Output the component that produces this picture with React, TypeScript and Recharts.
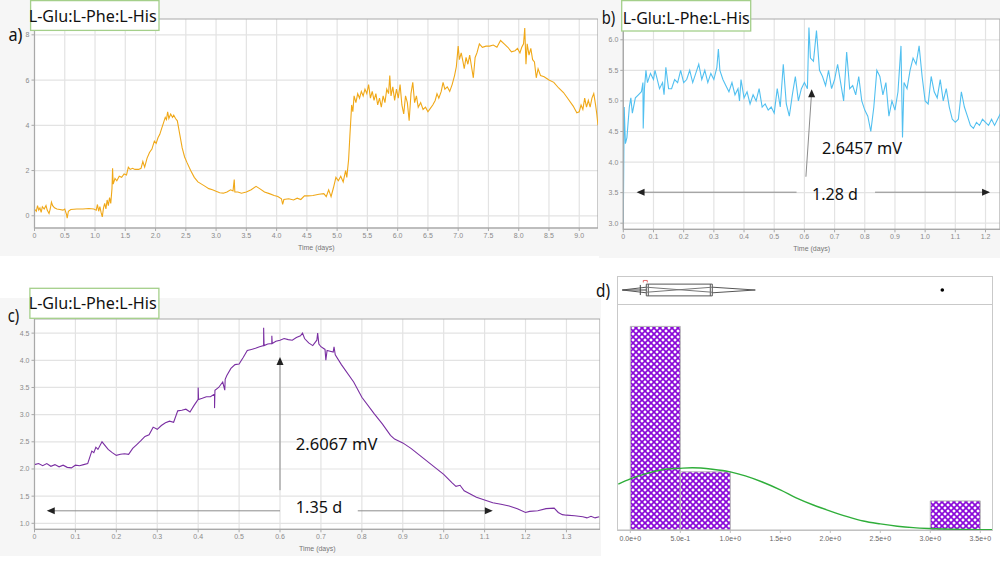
import React from "react";
import {
  LineChart,
  Line,
  XAxis,
  YAxis,
  CartesianGrid,
  ReferenceLine,
  ReferenceArea,
  ReferenceDot,
  ComposedChart,
  Scatter,
} from "recharts";

// a) long run, time (days) vs potential (mV)
const traceA: number[][] = [
  [0, 0.3], [0.03, 0.2], [0.05, 0.45], [0.07, 0.25], [0.09, 0.35], [0.11, 0.15], [0.13, 0.4], [0.16, 0.3],
  [0.19, 0.45], [0.21, 0.25], [0.24, 0.1], [0.26, 0.3], [0.28, 0.6], [0.3, 0.45], [0.33, 0.35], [0.37, 0.3],
  [0.42, 0.28], [0.47, 0.25], [0.5, 0.3], [0.53, 0.05], [0.54, -0.1], [0.56, 0.2], [0.6, 0.28], [0.7, 0.3],
  [0.8, 0.3], [0.9, 0.32], [0.98, 0.3], [1.02, 0.25], [1.04, 0.5], [1.06, 0.2], [1.08, 0.4], [1.1, 0.15],
  [1.12, -0.05], [1.14, 0.35], [1.16, 0.55], [1.18, 0.3], [1.2, 0.7], [1.22, 0.45], [1.24, 0.8], [1.26, 0.55],
  [1.28, 1.2], [1.29, 2.1], [1.3, 1.4], [1.33, 1.65], [1.36, 1.55], [1.4, 1.75], [1.44, 1.7], [1.48, 1.85],
  [1.52, 1.8], [1.55, 2.15], [1.58, 2.05], [1.62, 2.1], [1.66, 2.05], [1.72, 2.05], [1.76, 2.1], [1.79, 2.4],
  [1.82, 2.15], [1.86, 2.55], [1.9, 2.8], [1.94, 2.95], [1.98, 3.3], [2.01, 3.2], [2.04, 3.45], [2.07, 3.6],
  [2.1, 3.85], [2.13, 4.1], [2.16, 4.35], [2.18, 4.25], [2.2, 4.6], [2.22, 4.3], [2.25, 4.5], [2.28, 4.35],
  [2.3, 4.45], [2.33, 4.3], [2.36, 4.2], [2.4, 3.6], [2.44, 3.0], [2.48, 2.6], [2.52, 2.35], [2.58, 2.0],
  [2.64, 1.7], [2.7, 1.5], [2.76, 1.4], [2.82, 1.3], [2.88, 1.2], [2.94, 1.15], [3.0, 1.08], [3.06, 1.02],
  [3.12, 1.0], [3.18, 1.05], [3.24, 1.15], [3.28, 1.1], [3.3, 1.6], [3.31, 1.05], [3.36, 1.05], [3.42, 1.0],
  [3.5, 1.05], [3.58, 1.15], [3.66, 1.3], [3.72, 1.2], [3.8, 1.05], [3.88, 0.98], [3.96, 0.9], [4.02, 0.85],
  [4.08, 0.75], [4.1, 0.5], [4.12, 0.72], [4.2, 0.75], [4.28, 0.7], [4.34, 0.78], [4.4, 0.72], [4.46, 0.88],
  [4.52, 0.88], [4.6, 0.9], [4.7, 0.95], [4.78, 0.98], [4.82, 0.85], [4.86, 1.15], [4.9, 0.85], [4.94, 1.25],
  [4.98, 1.7], [5.02, 1.55], [5.06, 1.75], [5.1, 1.5], [5.14, 2.0], [5.16, 1.7], [5.19, 2.5], [5.21, 3.5],
  [5.24, 4.9], [5.26, 4.6], [5.28, 5.3], [5.31, 5.0], [5.34, 5.4], [5.37, 5.2], [5.4, 5.5], [5.43, 5.3],
  [5.46, 5.6], [5.49, 5.4], [5.52, 5.8], [5.55, 5.2], [5.58, 5.5], [5.61, 5.1], [5.64, 5.4], [5.67, 4.9],
  [5.7, 5.2], [5.73, 4.8], [5.76, 5.3], [5.79, 5.0], [5.82, 5.6], [5.85, 5.4], [5.87, 6.2], [5.89, 5.3],
  [5.92, 5.7], [5.95, 5.1], [5.98, 5.6], [6.01, 5.2], [6.04, 5.8], [6.07, 4.9], [6.1, 4.5], [6.13, 5.3],
  [6.16, 5.0], [6.19, 4.2], [6.22, 5.4], [6.25, 5.9], [6.28, 5.0], [6.31, 5.3], [6.34, 4.8], [6.38, 5.0],
  [6.42, 4.7], [6.46, 4.8], [6.5, 4.6], [6.54, 4.75], [6.58, 4.9], [6.62, 5.1], [6.65, 5.4], [6.68, 5.2],
  [6.72, 5.5], [6.75, 5.9], [6.78, 5.6], [6.82, 5.7], [6.86, 5.5], [6.9, 5.8], [6.94, 6.2], [6.97, 6.6],
  [7.0, 7.5], [7.02, 6.9], [7.05, 7.2], [7.08, 6.8], [7.1, 6.5], [7.13, 7.0], [7.16, 6.7], [7.19, 7.1],
  [7.22, 6.6], [7.25, 6.1], [7.28, 7.0], [7.31, 7.2], [7.35, 7.6], [7.4, 7.45], [7.46, 7.5], [7.52, 7.5],
  [7.58, 7.55], [7.64, 7.45], [7.7, 7.75], [7.76, 7.6], [7.82, 7.45], [7.88, 7.25], [7.94, 7.3], [7.98, 7.4],
  [8.02, 7.2], [8.05, 7.45], [8.08, 7.6], [8.1, 8.3], [8.12, 6.7], [8.14, 7.6], [8.17, 7.1], [8.2, 7.4],
  [8.23, 6.9], [8.26, 6.8], [8.29, 6.1], [8.32, 6.5], [8.36, 6.2], [8.42, 6.15], [8.5, 6.0], [8.58, 5.9],
  [8.66, 5.65], [8.74, 5.45], [8.82, 5.15], [8.9, 4.85], [8.96, 4.55], [9.0, 4.6], [9.03, 4.9], [9.06, 4.7],
  [9.09, 5.2], [9.12, 4.8], [9.15, 5.1], [9.18, 4.8], [9.21, 5.2], [9.24, 5.4], [9.27, 4.9], [9.29, 4.5],
  [9.31, 4.0],
];

// b) first cycle
const traceB: number[][] = [
  [0, 3.0], [0.003, 4.9], [0.007, 4.3], [0.012, 4.4], [0.02, 4.9], [0.025, 5.05], [0.03, 4.8], [0.04, 5.05],
  [0.05, 5.1], [0.06, 5.15], [0.065, 5.3], [0.066, 4.55], [0.07, 5.2], [0.075, 5.5], [0.08, 5.3], [0.09, 5.45],
  [0.1, 5.35], [0.105, 5.5], [0.11, 5.4], [0.12, 5.2], [0.13, 5.3], [0.135, 5.1], [0.141, 5.55], [0.15, 5.2],
  [0.16, 5.2], [0.17, 5.35], [0.18, 5.3], [0.19, 5.5], [0.2, 5.3], [0.21, 5.35], [0.22, 5.5], [0.23, 5.3],
  [0.24, 5.45], [0.25, 5.6], [0.26, 5.35], [0.27, 5.5], [0.28, 5.3], [0.29, 5.45], [0.3, 5.35], [0.31, 5.55],
  [0.315, 5.85], [0.32, 5.5], [0.33, 5.35], [0.34, 5.25], [0.35, 5.15], [0.36, 5.3], [0.37, 5.1], [0.38, 5.2],
  [0.385, 5.0], [0.39, 5.35], [0.4, 5.05], [0.41, 5.15], [0.42, 4.95], [0.43, 5.1], [0.44, 5.0], [0.45, 5.2],
  [0.46, 4.9], [0.47, 4.95], [0.48, 4.85], [0.49, 4.9], [0.5, 4.8], [0.51, 5.2], [0.52, 4.9], [0.53, 5.6],
  [0.54, 4.95], [0.55, 4.75], [0.56, 5.1], [0.57, 5.4], [0.58, 5.0], [0.59, 5.2], [0.6, 5.3], [0.61, 5.2],
  [0.615, 6.2], [0.62, 5.7], [0.63, 5.65], [0.64, 6.15], [0.65, 5.5], [0.66, 5.4], [0.67, 5.25], [0.68, 5.5],
  [0.69, 5.2], [0.7, 5.35], [0.71, 5.6], [0.72, 5.3], [0.73, 5.0], [0.74, 5.8], [0.75, 5.2], [0.76, 5.25],
  [0.77, 5.1], [0.78, 5.4], [0.79, 5.0], [0.8, 4.85], [0.81, 4.75], [0.82, 4.5], [0.83, 4.9], [0.84, 5.5],
  [0.85, 5.4], [0.86, 5.1], [0.87, 5.3], [0.88, 4.75], [0.89, 5.0], [0.9, 4.85], [0.91, 5.15], [0.92, 5.9],
  [0.925, 4.4], [0.93, 5.3], [0.94, 5.2], [0.95, 5.5], [0.96, 5.7], [0.97, 5.6], [0.98, 5.9], [0.99, 5.4],
  [1.0, 5.0], [1.01, 4.95], [1.02, 5.4], [1.03, 5.15], [1.04, 5.05], [1.05, 5.35], [1.06, 5.0], [1.07, 5.2],
  [1.08, 4.9], [1.09, 4.7], [1.1, 4.65], [1.11, 4.7], [1.12, 5.15], [1.13, 4.9], [1.14, 4.75], [1.15, 4.6],
  [1.16, 4.55], [1.17, 4.65], [1.18, 4.6], [1.19, 4.7], [1.2, 4.65], [1.21, 4.6], [1.22, 4.7], [1.23, 4.6],
  [1.24, 4.7], [1.25, 4.8],
];

// c) second cycle
const traceC: number[][] = [
  [0, 2.08], [0.01, 2.1], [0.02, 2.06], [0.03, 2.1], [0.04, 2.05], [0.05, 2.08], [0.06, 2.04], [0.07, 2.07],
  [0.08, 2.03], [0.09, 2.02], [0.1, 2.07], [0.11, 2.06], [0.12, 2.08], [0.13, 2.1], [0.14, 2.33], [0.145, 2.3],
  [0.15, 2.4], [0.155, 2.36], [0.165, 2.5], [0.18, 2.36], [0.19, 2.3], [0.2, 2.25], [0.21, 2.27], [0.22, 2.28],
  [0.23, 2.27], [0.24, 2.38], [0.25, 2.45], [0.26, 2.52], [0.27, 2.6], [0.28, 2.63], [0.29, 2.77], [0.3, 2.73],
  [0.31, 2.8], [0.32, 2.85], [0.33, 2.88], [0.34, 2.86], [0.35, 3.07], [0.36, 3.08], [0.37, 3.1], [0.38, 3.05],
  [0.39, 3.17], [0.4, 3.28], [0.4, 3.5], [0.401, 3.28], [0.41, 3.3], [0.42, 3.33], [0.43, 3.33], [0.44, 3.38],
  [0.44, 3.12], [0.441, 3.45], [0.45, 3.5], [0.46, 3.6], [0.465, 3.45], [0.466, 3.65], [0.47, 3.72], [0.48, 3.85],
  [0.49, 3.92], [0.5, 3.93], [0.51, 4.05], [0.52, 4.18], [0.53, 4.2], [0.54, 4.22], [0.55, 4.25], [0.56, 4.27],
  [0.56, 4.6], [0.561, 4.27], [0.57, 4.3], [0.58, 4.31], [0.58, 4.45], [0.581, 4.31], [0.59, 4.35], [0.6, 4.37],
  [0.61, 4.4], [0.62, 4.38], [0.63, 4.37], [0.64, 4.42], [0.65, 4.45], [0.655, 4.5], [0.66, 4.4], [0.67, 4.32],
  [0.68, 4.27], [0.69, 4.37], [0.692, 4.5], [0.695, 4.3], [0.7, 4.25], [0.71, 4.2], [0.712, 4.0], [0.715, 4.18],
  [0.72, 4.17], [0.73, 4.15], [0.732, 4.25], [0.735, 4.1], [0.75, 3.92], [0.78, 3.6], [0.8, 3.32], [0.83, 3.02],
  [0.85, 2.83], [0.87, 2.62], [0.88, 2.55], [0.9, 2.48], [0.92, 2.38], [0.95, 2.2], [0.98, 2.02], [1.0, 1.9],
  [1.02, 1.75], [1.03, 1.68], [1.04, 1.7], [1.05, 1.6], [1.08, 1.48], [1.1, 1.43], [1.12, 1.38], [1.14, 1.35],
  [1.16, 1.32], [1.18, 1.27], [1.2, 1.2], [1.21, 1.22], [1.23, 1.23], [1.25, 1.27], [1.27, 1.28], [1.28, 1.2],
  [1.29, 1.16], [1.3, 1.15], [1.32, 1.14], [1.34, 1.12], [1.35, 1.1], [1.36, 1.13], [1.37, 1.1], [1.38, 1.12],
];

// d) histogram of drift values (bins of 0.5)
const binStarts = [0, 0.5, 3.0];
const binCounts = [7, 2, 1];
const binWidth = 0.5;
const curveX = [-0.12, 0, 0.15, 0.32, 0.5, 0.62, 0.82, 1.0, 1.15, 1.32, 1.5, 1.67, 1.83, 2.0, 2.17, 2.33, 2.5, 2.67, 2.83, 3.0, 3.33, 3.62];
const curveY = [1.58, 1.76, 1.93, 2.07, 2.12, 2.14, 2.09, 2.0, 1.86, 1.65, 1.38, 1.09, 0.86, 0.65, 0.46, 0.31, 0.21, 0.13, 0.08, 0.05, 0.02, 0.01];
const histTicks = [0, 0.5, 1, 1.5, 2, 2.5, 3, 3.5];
const boxStats = { lo: -0.08, notch: 0.1, q1: 0.16, q3: 0.82, hi: 1.25, outlier: 3.12 };

const rows = (pts: number[][]) => pts.map(([t, v]) => ({ t, v }));
const step = (from: number, to: number, by: number) => {
  const out: number[] = [];
  for (let i = 0; from + i * by <= to + 1e-9; i++) out.push(+(from + i * by).toFixed(2));
  return out;
};
const fmt1 = (v: number) => (v === 0 ? "0" : v.toFixed(1));

const tickStyle = { fontSize: 7, fill: "#8a8a8a" };
const gridColor = "#e3e3e3";
const frameColor = "#a9a9a9";
const histDomain = [-0.123, 3.623];
const histW = 374.6;

const headShape = (dir: "up" | "left" | "right") => (p: any) => {
  const { cx, cy } = p;
  const d =
    dir === "up"
      ? `M${cx},${cy} L${cx - 3.5},${cy + 8} L${cx + 3.5},${cy + 8} Z`
      : dir === "left"
      ? `M${cx},${cy} L${cx + 8},${cy - 3.5} L${cx + 8},${cy + 3.5} Z`
      : `M${cx},${cy} L${cx - 8},${cy - 3.5} L${cx - 8},${cy + 3.5} Z`;
  return <path d={d} fill="#222" />;
};

function Trace(props: any) {
  const { left, top, width, height, marginTop, yw, xh, xDomain, yDomain, xTicks, yTicks, data, color, yFmt, labelOffset, children } = props;
  return (
    <div style={{ position: "absolute", left, top }}>
      <LineChart width={width} height={height} data={rows(data)} margin={{ top: marginTop, right: 0, left: 0, bottom: 0 }}>
        <CartesianGrid stroke={gridColor} strokeWidth={1.2} fill="#fff" verticalValues={xTicks} horizontalValues={yTicks} />
        <XAxis
          dataKey="t"
          type="number"
          domain={xDomain}
          ticks={xTicks}
          allowDataOverflow
          height={xh}
          tick={tickStyle}
          tickFormatter={fmt1}
          tickSize={3}
          tickMargin={2}
          stroke={frameColor}
          interval={0}
          label={{ value: "Time (days)", position: "insideBottom", offset: labelOffset, fontSize: 7, fill: "#777" }}
        />
        <YAxis
          type="number"
          domain={yDomain}
          ticks={yTicks}
          allowDataOverflow
          width={yw}
          tick={tickStyle}
          tickFormatter={yFmt}
          tickSize={3}
          tickMargin={2}
          stroke={frameColor}
          interval={0}
        />
        <ReferenceArea x1={xDomain[0]} x2={xDomain[1]} y1={yDomain[0]} y2={yDomain[1]} fill="none" stroke={frameColor} strokeWidth={1.2} />
        <Line dataKey="v" type="linear" stroke={color} strokeWidth={1.1} dot={false} isAnimationActive={false} />
        {children}
      </LineChart>
    </div>
  );
}

const arrowGray = "#8c8c8c";

export default function App() {
  const curveData = curveX.map((x, i) => ({ x, d: curveY[i] }));
  const font = "'Noto Sans', 'Open Sans', sans-serif";
  return (
    <div style={{ position: "absolute", left: 0, top: 0, width: 1000, height: 563, overflow: "hidden", background: "#fff", fontFamily: "'Liberation Sans', Arial, sans-serif" }}>
      <div style={{ position: "absolute", left: 0, top: 0, width: 599, height: 256, background: "#f6f6f6" }} />
      <div style={{ position: "absolute", left: 599, top: 0, width: 401, height: 258, background: "#f6f6f6" }} />
      <div style={{ position: "absolute", left: 0, top: 298, width: 601, height: 258, background: "#f6f6f6" }} />

      <Trace
        left={0} top={0} width={598} height={255} marginTop={19} yw={34.5} xh={27}
        xDomain={[0, 9.31]} yDomain={[-0.54, 8.7]} xTicks={step(0, 9, 0.5)} yTicks={[0, 2, 4, 6, 8]}
        data={traceA} color="#f0a818" yFmt={(v: number) => String(v)} labelOffset={5}
      />

      <Trace
        left={595} top={0} width={405} height={258} marginTop={19} yw={28.3} xh={28.7}
        xDomain={[0, 1.248]} yDomain={[2.9, 6.34]} xTicks={step(0, 1.2, 0.1)} yTicks={step(3, 6, 0.5)}
        data={traceB} color="#52c0f0" yFmt={(v: number) => v.toFixed(1)} labelOffset={7}
      >
        <ReferenceLine segment={[{ x: 0.605, y: 3.76 }, { x: 0.623, y: 5.08 }]} stroke={arrowGray} />
        <ReferenceDot x={0.624} y={5.19} r={3} shape={headShape("up")} />
        <ReferenceLine segment={[{ x: 0.05, y: 3.507 }, { x: 0.574, y: 3.507 }]} stroke={arrowGray} />
        <ReferenceLine segment={[{ x: 0.834, y: 3.507 }, { x: 1.21, y: 3.507 }]} stroke={arrowGray} />
        <ReferenceDot x={0.044} y={3.507} r={3} shape={headShape("left")} />
        <ReferenceDot x={1.215} y={3.507} r={3} shape={headShape("right")} />
      </Trace>

      <Trace
        left={0} top={298} width={600} height={260} marginTop={21} yw={34.5} xh={28.7}
        xDomain={[0, 1.382]} yDomain={[0.89, 4.76]} xTicks={step(0, 1.3, 0.1)} yTicks={step(1, 4.5, 0.5)}
        data={traceC} color="#7a2fa2" yFmt={(v: number) => v.toFixed(1)} labelOffset={7}
      >
        <ReferenceLine segment={[{ x: 0.6, y: 1.61 }, { x: 0.6, y: 3.95 }]} stroke={arrowGray} />
        <ReferenceDot x={0.6} y={4.06} r={3} shape={headShape("up")} />
        <ReferenceLine segment={[{ x: 0.035, y: 1.23 }, { x: 0.6, y: 1.23 }]} stroke={arrowGray} />
        <ReferenceLine segment={[{ x: 0.79, y: 1.23 }, { x: 1.115, y: 1.23 }]} stroke={arrowGray} />
        <ReferenceDot x={0.03} y={1.23} r={3} shape={headShape("left")} />
        <ReferenceDot x={1.12} y={1.23} r={3} shape={headShape("right")} />
      </Trace>

      {/* d) frame */}
      <div style={{ position: "absolute", left: 617, top: 276, width: 376, height: 255, border: "1px solid #c9c9c9", boxSizing: "border-box" }} />
      <div style={{ position: "absolute", left: 617, top: 304, width: 376, height: 1, background: "#c9c9c9" }} />

      <div style={{ position: "absolute", left: 617.7, top: 276 }}>
        <ComposedChart width={histW} height={28} data={[]} margin={{ top: 0, right: 0, left: 0, bottom: 0 }}>
          <XAxis dataKey="x" type="number" domain={histDomain} hide allowDataOverflow />
          <YAxis type="number" domain={[0, 1]} hide allowDataOverflow />
          <ReferenceLine segment={[{ x: boxStats.lo, y: 0.5 }, { x: boxStats.q1, y: 0.5 }]} stroke="#444" />
          <ReferenceLine segment={[{ x: boxStats.lo, y: 0.5 }, { x: boxStats.q1, y: 0.6 }]} stroke="#555" />
          <ReferenceLine segment={[{ x: boxStats.lo, y: 0.5 }, { x: boxStats.q1, y: 0.4 }]} stroke="#555" />
          <ReferenceLine segment={[{ x: boxStats.notch, y: 0.32 }, { x: boxStats.notch, y: 0.68 }]} stroke="#444" />
          <ReferenceArea x1={boxStats.q1} x2={boxStats.q3} y1={0.29} y2={0.71} fill="none" stroke="#555" strokeOpacity={1} />
          <ReferenceLine segment={[{ x: boxStats.q1 + 0.02, y: 0.29 }, { x: boxStats.q1 + 0.02, y: 0.71 }]} stroke="#555" />
          <ReferenceLine segment={[{ x: boxStats.q3 - 0.02, y: 0.29 }, { x: boxStats.q3 - 0.02, y: 0.71 }]} stroke="#555" />
          <ReferenceLine segment={[{ x: boxStats.q1, y: 0.6 }, { x: boxStats.q3, y: 0.42 }]} stroke="#777" />
          <ReferenceLine segment={[{ x: boxStats.q1, y: 0.42 }, { x: boxStats.q3, y: 0.6 }]} stroke="#777" />
          <ReferenceLine segment={[{ x: boxStats.q3, y: 0.6 }, { x: boxStats.hi, y: 0.5 }]} stroke="#555" />
          <ReferenceLine segment={[{ x: boxStats.q3, y: 0.4 }, { x: boxStats.hi, y: 0.5 }]} stroke="#555" />
          <ReferenceLine segment={[{ x: 0.13, y: 0.84 }, { x: 0.17, y: 0.84 }]} stroke="#e04848" strokeWidth={0.8} />
          <ReferenceLine segment={[{ x: 0.13, y: 0.84 }, { x: 0.13, y: 0.77 }]} stroke="#e04848" strokeWidth={0.8} />
          <ReferenceLine segment={[{ x: 0.17, y: 0.84 }, { x: 0.17, y: 0.77 }]} stroke="#e04848" strokeWidth={0.8} />
          <Scatter
            data={[{ x: boxStats.outlier, y: 0.5 }]}
            dataKey="y"
            isAnimationActive={false}
            shape={(p: any) => <circle cx={p.cx} cy={p.cy} r={1.8} fill="#000" />}
          />
        </ComposedChart>
      </div>

      <div style={{ position: "absolute", left: 617.7, top: 304 }}>
        <ComposedChart width={histW} height={245} data={curveData} margin={{ top: 0, right: 0, left: 0, bottom: 0 }}>
          <defs>
            <pattern id="hatch" width="6" height="6" patternUnits="userSpaceOnUse">
              <rect width="6" height="6" fill="#fff" />
              <path d="M0,0 L6,6 M6,0 L0,6" stroke="#8a08d8" strokeWidth={1.7} />
            </pattern>
          </defs>
          <XAxis
            dataKey="x"
            type="number"
            domain={histDomain}
            ticks={histTicks}
            allowDataOverflow
            height={19}
            interval={0}
            tick={{ fontSize: 7, fill: "#666" }}
            tickFormatter={(v: number) => v.toExponential(1)}
            tickSize={3}
            tickMargin={3}
            stroke="#bdbdbd"
          />
          <YAxis type="number" domain={[0, 7.77]} hide allowDataOverflow />
          {binStarts.map((s, i) => (
            <ReferenceArea
              key={s}
              x1={s}
              x2={s + binWidth}
              y1={0}
              y2={binCounts[i]}
              fill="url(#hatch)"
              fillOpacity={1}
              stroke="#b5b5b5"
              strokeOpacity={1}
              strokeWidth={1}
            />
          ))}
        </ComposedChart>
      </div>

      <div style={{ position: "absolute", left: 617.7, top: 304 }}>
        <LineChart width={histW} height={226} data={curveData} margin={{ top: 0, right: 0, left: 0, bottom: 0 }}>
          <XAxis dataKey="x" type="number" domain={histDomain} hide allowDataOverflow />
          <YAxis type="number" domain={[0, 7.77]} hide allowDataOverflow />
          <Line dataKey="d" type="monotone" stroke="#2fae3a" strokeWidth={1.4} dot={false} isAnimationActive={false} />
        </LineChart>
      </div>

      <svg width={1000} height={563} style={{ position: "absolute", left: 0, top: 0, pointerEvents: "none" }} fontFamily={font} fill="#111">
        <text x={8.4} y={41} fontSize={18} textLength={14} lengthAdjust="spacingAndGlyphs">a)</text>
        <rect x={30.6} y={0.6} width={128.4} height={29.8} fill="#fff" stroke="#a4cf8a" strokeWidth={1.3} />
        <text x={28.7} y={22} fontSize={17} textLength={128} lengthAdjust="spacingAndGlyphs">L-Glu:L-Phe:L-His</text>

        <text x={601.7} y={24} fontSize={18} textLength={13.5} lengthAdjust="spacingAndGlyphs">b)</text>
        <rect x={621.7} y={0.6} width={129} height={30.4} fill="#fff" stroke="#a4cf8a" strokeWidth={1.3} />
        <text x={622.7} y={24} fontSize={17} textLength={127} lengthAdjust="spacingAndGlyphs">L-Glu:L-Phe:L-His</text>
        <text x={822} y={154} fontSize={17} textLength={80} lengthAdjust="spacingAndGlyphs">2.6457 mV</text>
        <text x={812} y={199.5} fontSize={17} textLength={46} lengthAdjust="spacingAndGlyphs">1.28 d</text>

        <text x={7.7} y={322} fontSize={18} textLength={11.5} lengthAdjust="spacingAndGlyphs">c)</text>
        <rect x={29.9} y={288.3} width={129} height={30} fill="#fff" stroke="#a4cf8a" strokeWidth={1.3} />
        <text x={28.7} y={308.5} fontSize={17} textLength={128} lengthAdjust="spacingAndGlyphs">L-Glu:L-Phe:L-His</text>
        <text x={295.8} y={449.5} fontSize={17} textLength={81.6} lengthAdjust="spacingAndGlyphs">2.6067 mV</text>
        <text x={295.8} y={512.5} fontSize={17} textLength={46.3} lengthAdjust="spacingAndGlyphs">1.35 d</text>

        <text x={596} y={297} fontSize={18} textLength={14} lengthAdjust="spacingAndGlyphs">d)</text>
      </svg>
    </div>
  );
}
